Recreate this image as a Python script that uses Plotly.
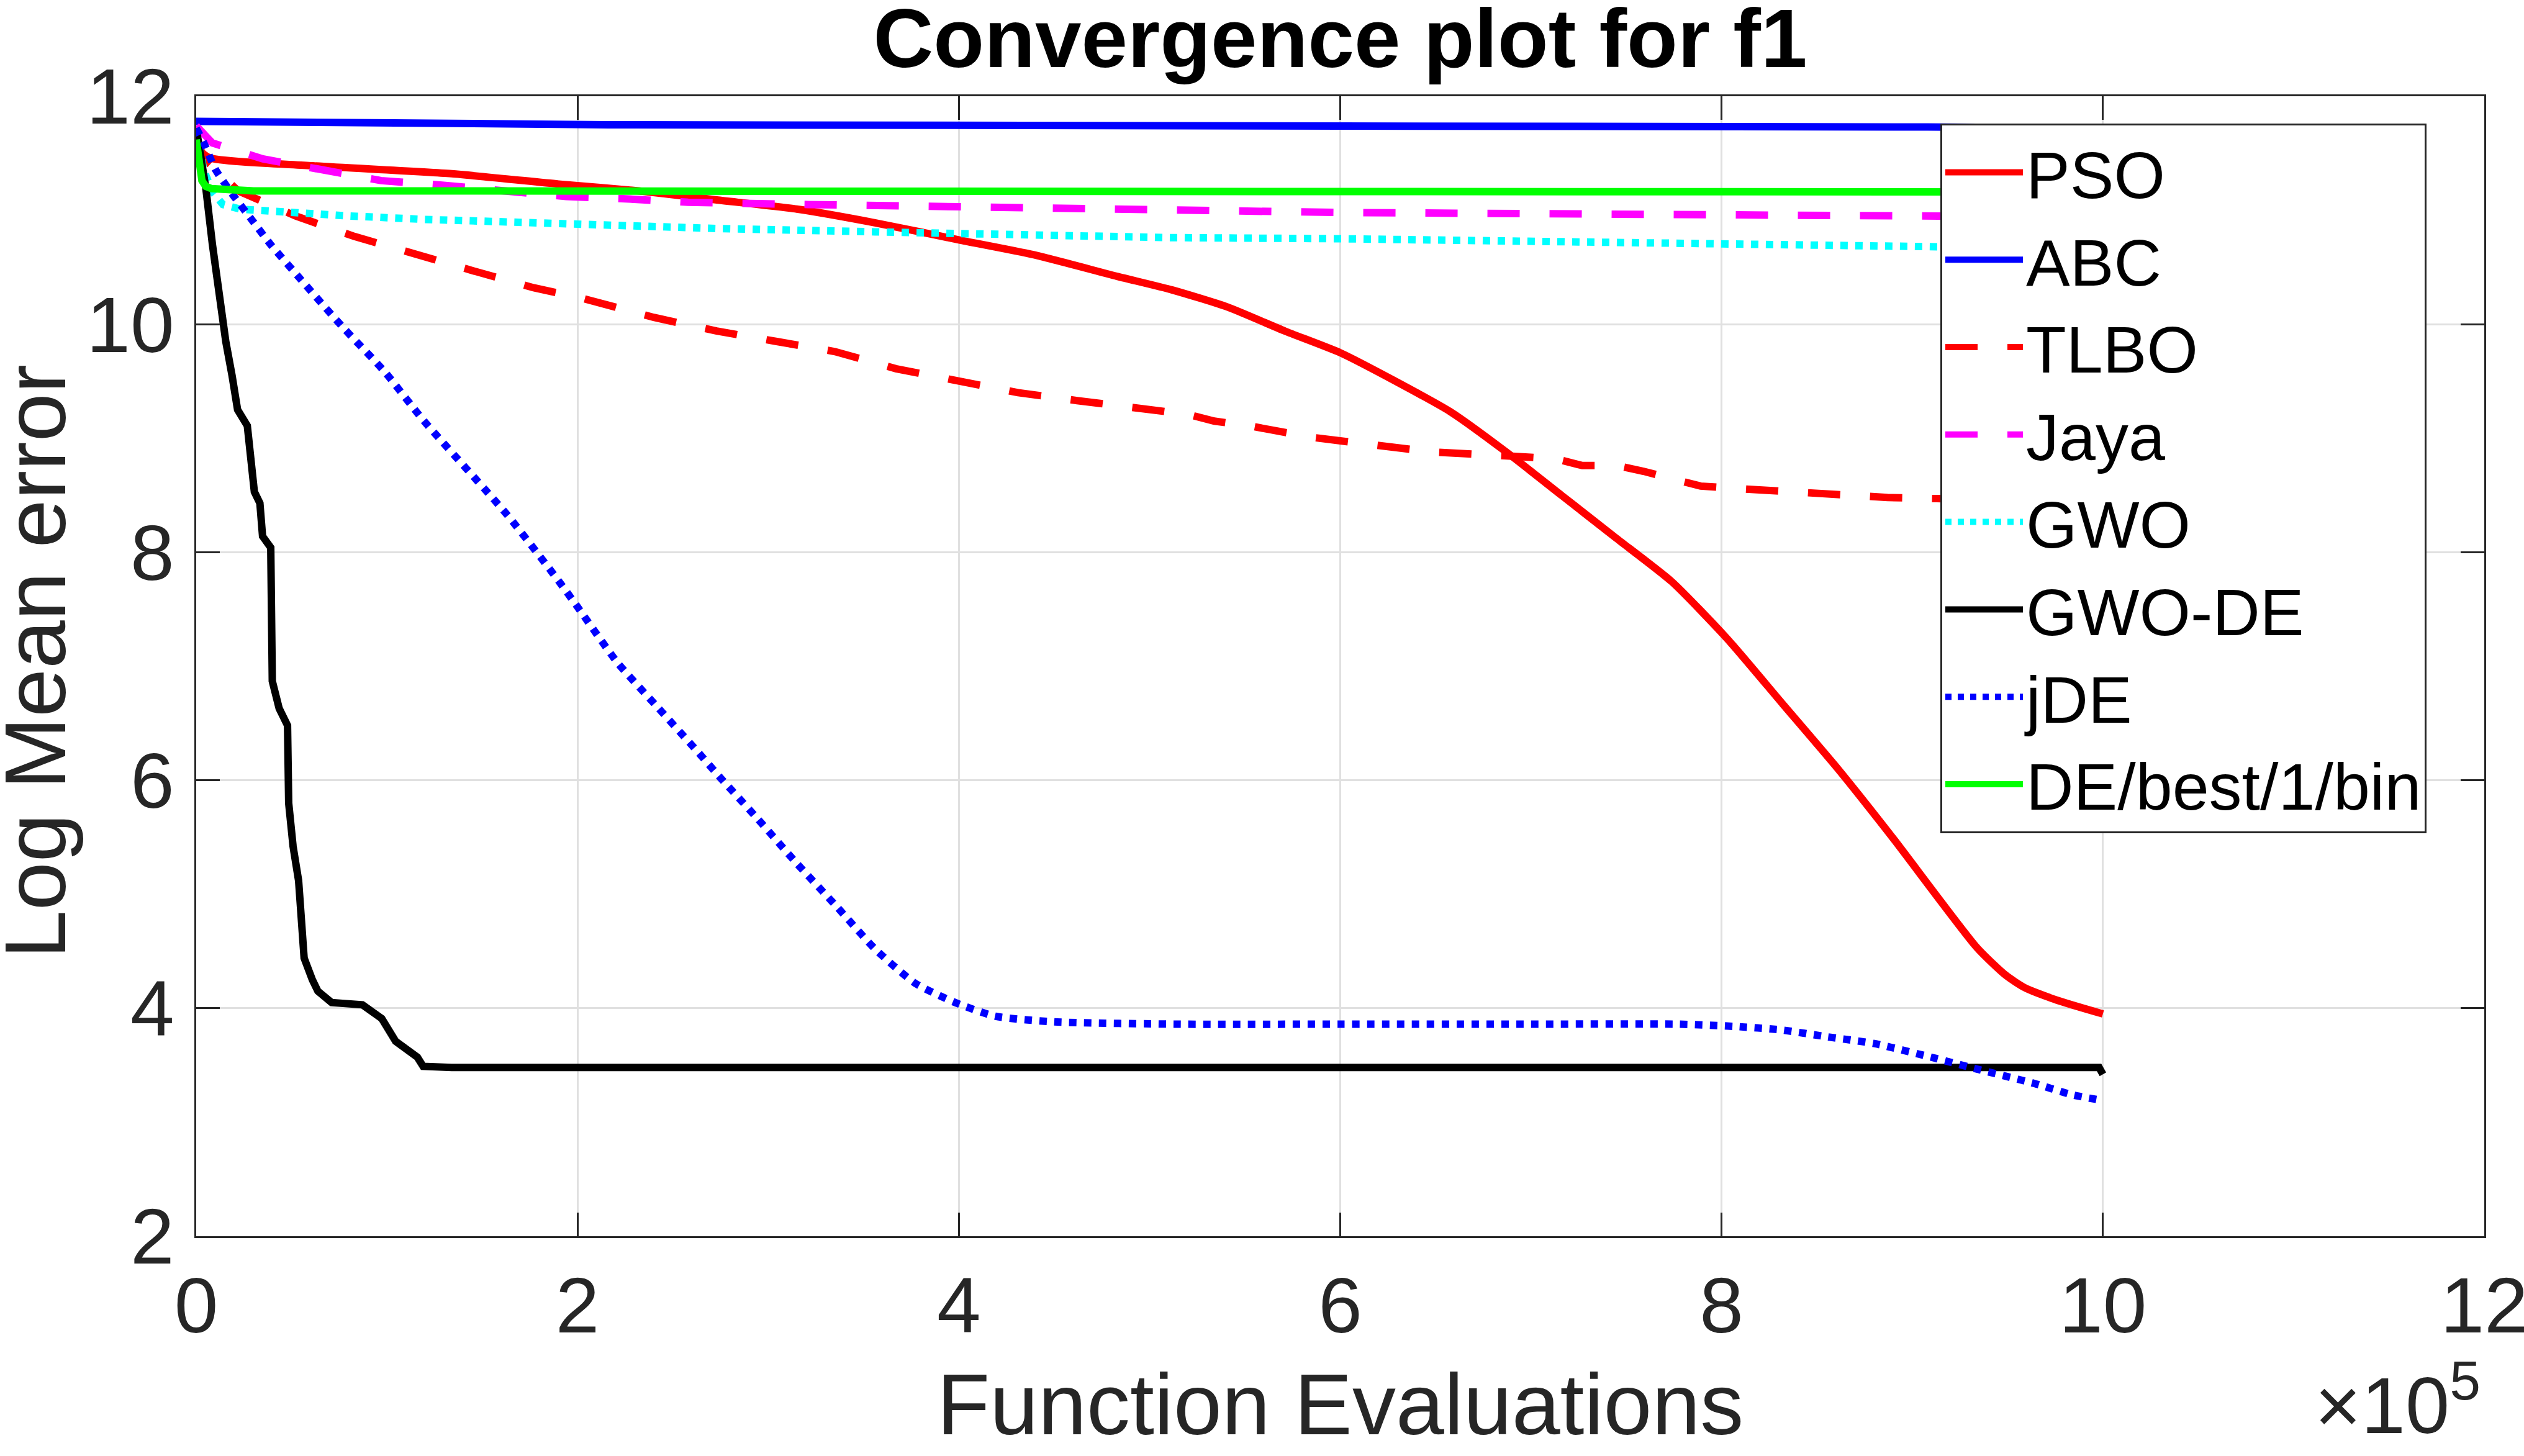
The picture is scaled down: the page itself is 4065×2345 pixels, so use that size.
import plotly.graph_objects as go

# x values are Function Evaluations in units of 1e5
pso_x = [0, 0.07, 0.61, 1.34, 1.90, 2.32, 2.73, 3.15, 3.56, 4.0, 4.39, 4.83, 5.12, 5.41, 5.71, 6.0, 6.29, 6.58, 6.87, 7.16, 7.45, 7.74, 8.03, 8.32, 8.61, 8.90, 9.34, 9.49, 9.59, 9.76, 10.0]
pso_y = [11.55, 11.46, 11.39, 11.32, 11.23, 11.17, 11.09, 11.01, 10.89, 10.74, 10.61, 10.42, 10.30, 10.15, 9.94, 9.75, 9.50, 9.23, 8.88, 8.50, 8.12, 7.74, 7.24, 6.67, 6.10, 5.49, 4.53, 4.29, 4.18, 4.07, 3.95]

abc_x = [0, 2.16, 9.08, 10.0]
abc_y = [11.78, 11.75, 11.73, 11.72]

tlbo_x = [0, 0.04, 0.22, 0.52, 0.83, 1.15, 1.45, 1.77, 2.02, 2.40, 2.73, 3.04, 3.35, 3.67, 3.98, 4.31, 4.62, 4.88, 5.20, 5.34, 5.52, 5.84, 6.15, 6.48, 6.93, 7.13, 7.27, 7.45, 7.59, 7.75, 7.89, 8.07, 8.55, 8.87, 9.13, 10.0]
tlbo_y = [11.65, 11.45, 11.17, 10.95, 10.77, 10.61, 10.47, 10.32, 10.23, 10.06, 9.94, 9.85, 9.76, 9.61, 9.51, 9.40, 9.33, 9.27, 9.21, 9.15, 9.11, 9.01, 8.95, 8.88, 8.84, 8.82, 8.76, 8.76, 8.71, 8.64, 8.58, 8.56, 8.51, 8.48, 8.47, 8.43]

jaya_x = [0, 0.085, 0.35, 0.65, 0.97, 1.29, 1.63, 1.94, 2.25, 2.58, 3.21, 3.88, 4.83, 6.0, 8.0, 9.1, 10.0]
jaya_y = [11.74, 11.59, 11.45, 11.36, 11.26, 11.22, 11.16, 11.12, 11.10, 11.07, 11.05, 11.03, 11.005, 10.98, 10.96, 10.95, 10.94]

gwo_x = [0, 0.04, 0.086, 0.14, 0.23, 0.46, 0.80, 1.19, 1.69, 2.0, 2.73, 3.56, 4.39, 5.1, 6.0, 8.0, 9.1, 10.0]
gwo_y = [11.70, 11.35, 11.16, 11.05, 11.01, 10.98, 10.95, 10.92, 10.89, 10.88, 10.84, 10.81, 10.78, 10.76, 10.75, 10.71, 10.68, 10.66]

gwode_x = [0, 0.05, 0.085, 0.115, 0.155, 0.188, 0.217, 0.268, 0.29, 0.305, 0.334, 0.348, 0.391, 0.399, 0.435, 0.479, 0.485, 0.508, 0.537, 0.551, 0.566, 0.609, 0.638, 0.71, 0.872, 0.973, 1.046, 1.16, 1.19, 1.34, 9.98, 10.0]
gwode_y = [11.72, 11.2, 10.7, 10.3, 9.85, 9.55, 9.25, 9.11, 8.82, 8.53, 8.43, 8.14, 8.04, 6.87, 6.63, 6.48, 5.80, 5.42, 5.12, 4.78, 4.44, 4.25, 4.15, 4.05, 4.03, 3.91, 3.71, 3.57, 3.49, 3.48, 3.48, 3.42]

jde_x = [0, 0.04, 0.10, 0.19, 0.29, 0.39, 0.55, 0.76, 0.99, 1.19, 1.63, 1.90, 2.0, 2.21, 2.42, 2.63, 2.75, 2.94, 3.15, 3.36, 3.56, 3.77, 3.98, 4.19, 4.50, 5.16, 6.0, 7.0, 7.77, 8.07, 8.31, 8.55, 8.80, 9.10, 9.33, 9.64, 9.84, 10.0]
jde_y = [11.72, 11.59, 11.36, 11.14, 10.92, 10.70, 10.39, 9.99, 9.58, 9.16, 8.33, 7.75, 7.52, 7.03, 6.64, 6.25, 6.02, 5.67, 5.27, 4.89, 4.52, 4.22, 4.05, 3.93, 3.88, 3.86, 3.86, 3.86, 3.86, 3.84, 3.81, 3.75, 3.69, 3.57, 3.47, 3.34, 3.24, 3.19]

debest_x = [0, 0.015, 0.03, 0.05, 0.08, 0.3, 10.0]
debest_y = [11.62, 11.45, 11.26, 11.21, 11.19, 11.17, 11.16]

series = [
    ("PSO", pso_x, pso_y, "#ff0000", "solid", "spline"),
    ("ABC", abc_x, abc_y, "#0000ff", "solid", "linear"),
    ("TLBO", tlbo_x, tlbo_y, "#ff0000", "52px,48px", "linear"),
    ("Jaya", jaya_x, jaya_y, "#ff00ff", "52px,48px", "linear"),
    ("GWO", gwo_x, gwo_y, "#00ffff", "dot", "linear"),
    ("GWO-DE", gwode_x, gwode_y, "#000000", "solid", "linear"),
    ("jDE", jde_x, jde_y, "#0000ff", "dot", "spline"),
    ("DE/best/1/bin", debest_x, debest_y, "#00ff00", "solid", "linear"),
]

x_ticks = [0, 2, 4, 6, 8, 10, 12]
y_ticks = [2, 4, 6, 8, 10, 12]

FONT = "Liberation Sans, Arial, sans-serif"
AX = "#262626"

fig = go.Figure()
for name, xs, ys, col, dash, shape in series:
    ln = dict(color=col, width=12, dash=dash, shape=shape)
    if shape == "spline":
        ln["smoothing"] = 0.6
    fig.add_trace(go.Scatter(x=xs, y=ys, mode="lines", name=name, line=ln))

W, H = 4065, 2345
L, R, T, B = 316, 64, 155, 354
PW, PH = W - L - R, H - T - B

axis_common = dict(showline=True, linecolor=AX, linewidth=3, mirror="allticks",
                   ticks="inside", ticklen=38, tickwidth=3, tickcolor=AX,
                   showgrid=True, gridcolor="#e0e0e0", gridwidth=3, zeroline=False,
                   ticklabeloverflow="allow",
                   tickfont=dict(family=FONT, size=127, color=AX))

fig.update_xaxes(range=[0, 12], tickvals=x_ticks, ticktext=[str(v) for v in x_ticks],
                 title=dict(text="Function Evaluations", font=dict(family=FONT, size=140, color=AX), standoff=40),
                 ticklabelstandoff=0, **axis_common)
fig.update_yaxes(range=[2, 12], tickvals=y_ticks, ticktext=[str(v) for v in y_ticks],
                 ticklabelstandoff=7, **axis_common)

fig.update_layout(
    width=W, height=H, autosize=False,
    margin=dict(l=L, r=R, t=T, b=B, pad=0, autoexpand=False),
    paper_bgcolor="white", plot_bgcolor="white",
    title=dict(text="<b>Convergence plot for f1</b>", x=0.5, xref="paper", xanchor="center",
               y=1 - 61 / H, yref="container", yanchor="middle",
               font=dict(family=FONT, size=134, color="black")),
    legend=dict(x=(3125 - L) / PW, y=(H - B - 199) / PH, xanchor="left", yanchor="top",
                bgcolor="white", bordercolor=AX, borderwidth=3,
                font=dict(family=FONT, size=106, color="black"), itemwidth=125,
                tracegroupgap=0),
    showlegend=True,
)

# y-axis title (rotated)
fig.add_annotation(text="Log Mean error", textangle=-90, xref="paper", yref="paper",
                   x=(56 - L) / PW, y=(H - B - 1066) / PH, xanchor="center", yanchor="middle",
                   showarrow=False, font=dict(family=FONT, size=140, color=AX))

# axis exponent
fig.add_annotation(text="×10<sup>5</sup>", xref="paper", yref="paper",
                   x=(3997 - L) / PW, y=-(B - 8) / PH,
                   xanchor="right", yanchor="bottom", showarrow=False,
                   font=dict(family=FONT, size=128, color=AX))

fig.write_html("out.html", config={"displayModeBar": False},
               post_script="document.body.style.margin='0';document.body.style.overflow='hidden';")
